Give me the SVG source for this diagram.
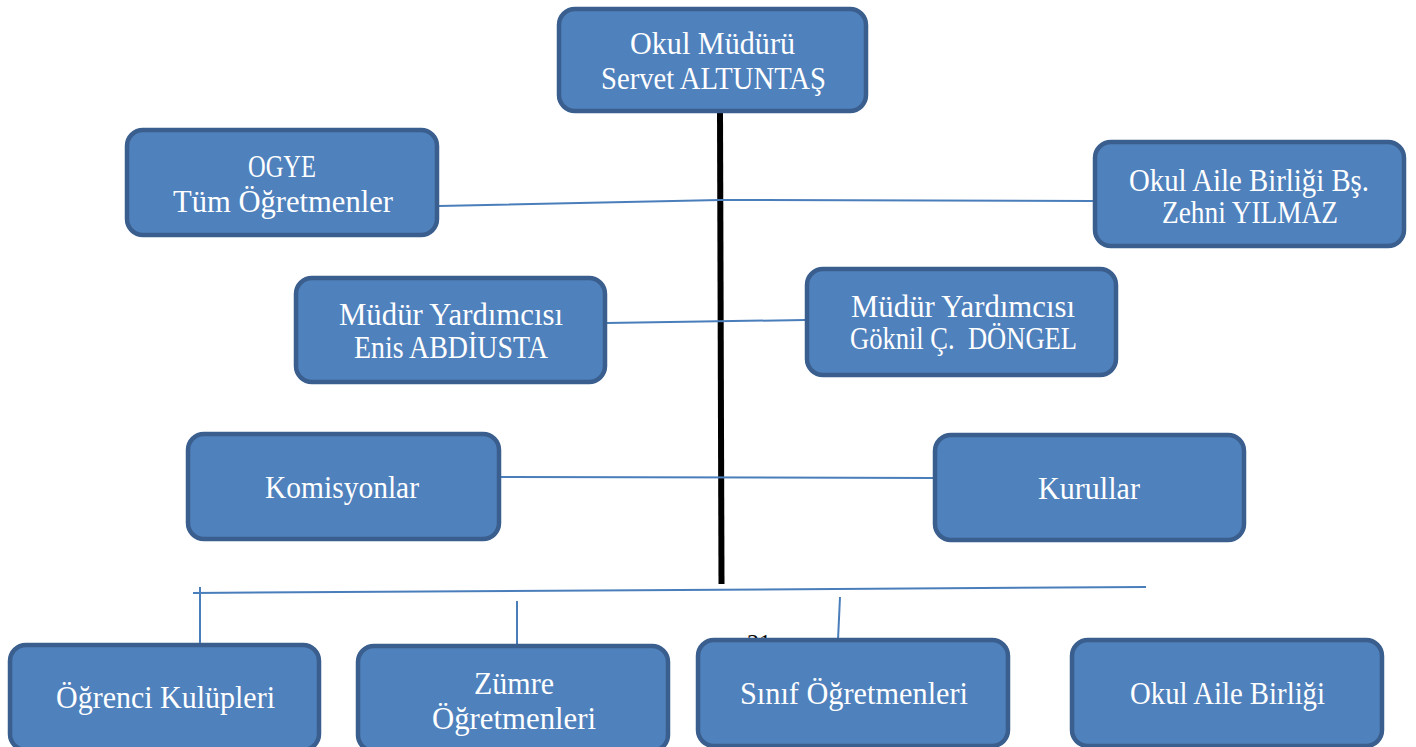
<svg xmlns="http://www.w3.org/2000/svg" width="1416" height="747" viewBox="0 0 1416 747">
<style>
.node rect{fill:#4f81bd;stroke:#3a5f8e;stroke-width:4.5}
.node text{fill:#ffffff;font-family:"Liberation Serif","DejaVu Serif",serif;font-size:31px;text-anchor:middle;white-space:pre}
.node text.c{font-size:32px}
.conn{stroke:#4a7ebb;stroke-width:2;fill:none}
.spine{stroke:#000;stroke-width:6;fill:none}
.pg{font-family:"Liberation Serif",serif;font-size:24px;fill:#000}
</style>
<rect width="1416" height="747" fill="#ffffff"/>
<g id="connectors">
<line class="spine" x1="720" y1="113" x2="721.5" y2="584"/>
<polyline class="conn" points="439,206 720,200 1093,201"/>
<line class="conn" x1="607" y1="323" x2="805" y2="320"/>
<line class="conn" x1="501" y1="477" x2="933" y2="478"/>
<line class="conn" x1="193" y1="593" x2="1146" y2="587"/>
<line class="conn" x1="200" y1="587" x2="200" y2="645"/>
<line class="conn" x1="517" y1="601" x2="517" y2="646"/>
<line class="conn" x1="840" y1="597" x2="838" y2="640"/>
</g>
<text class="pg" x="747" y="650">21</text>
<g id="n-mudur" class="node">
<rect x="559" y="9" width="307" height="102" rx="16"/>
<text x="712.5" y="54" textLength="165" lengthAdjust="spacingAndGlyphs">Okul Müdürü</text>
<text x="713.5" y="89" textLength="225" lengthAdjust="spacingAndGlyphs">Servet ALTUNTAŞ</text>
</g>
<g id="n-ogye" class="node">
<rect x="127" y="130" width="310" height="105" rx="16"/>
<text x="282" y="177" textLength="68" lengthAdjust="spacingAndGlyphs">OGYE</text>
<text x="283" y="212" textLength="220" lengthAdjust="spacingAndGlyphs">Tüm Öğretmenler</text>
</g>
<g id="n-oab-bs" class="node">
<rect x="1095" y="142" width="309" height="104" rx="16"/>
<text x="1249" y="191" textLength="240" lengthAdjust="spacingAndGlyphs">Okul Aile Birliği Bş.</text>
<text x="1250" y="223" textLength="176" lengthAdjust="spacingAndGlyphs">Zehni YILMAZ</text>
</g>
<g id="n-my-enis" class="node">
<rect x="296" y="278" width="309" height="104" rx="16"/>
<text x="451" y="325" textLength="224" lengthAdjust="spacingAndGlyphs">Müdür Yardımcısı</text>
<text x="451" y="358" textLength="194" lengthAdjust="spacingAndGlyphs">Enis ABDİUSTA</text>
</g>
<g id="n-my-goknil" class="node">
<rect x="807" y="269" width="309" height="106" rx="16"/>
<text x="963" y="317" textLength="224" lengthAdjust="spacingAndGlyphs">Müdür Yardımcısı</text>
<text x="963.5" y="349" textLength="227" lengthAdjust="spacingAndGlyphs">Göknil Ç.  DÖNGEL</text>
</g>
<g id="n-komisyonlar" class="node">
<rect x="188" y="434" width="311" height="105" rx="16"/>
<text x="342" y="498" textLength="154" lengthAdjust="spacingAndGlyphs">Komisyonlar</text>
</g>
<g id="n-kurullar" class="node">
<rect x="935" y="435" width="309" height="105" rx="16"/>
<text x="1089" y="499" textLength="102" lengthAdjust="spacingAndGlyphs">Kurullar</text>
</g>
<g id="n-kulupler" class="node">
<rect x="10" y="645" width="309" height="105" rx="16"/>
<text class="c" x="165.5" y="708" textLength="219" lengthAdjust="spacingAndGlyphs">Öğrenci Kulüpleri</text>
</g>
<g id="n-zumre" class="node">
<rect x="358" y="646" width="310" height="105" rx="16"/>
<text class="c" x="514" y="694" textLength="80" lengthAdjust="spacingAndGlyphs">Zümre</text>
<text class="c" x="514" y="729" textLength="164" lengthAdjust="spacingAndGlyphs">Öğretmenleri</text>
</g>
<g id="n-sinif" class="node">
<rect x="698" y="640" width="310" height="106" rx="16"/>
<text class="c" x="854" y="704" textLength="228" lengthAdjust="spacingAndGlyphs">Sınıf Öğretmenleri</text>
</g>
<g id="n-oab" class="node">
<rect x="1072" y="640" width="310" height="106" rx="16"/>
<text class="c" x="1227.5" y="704" textLength="195" lengthAdjust="spacingAndGlyphs">Okul Aile Birliği</text>
</g>
</svg>
